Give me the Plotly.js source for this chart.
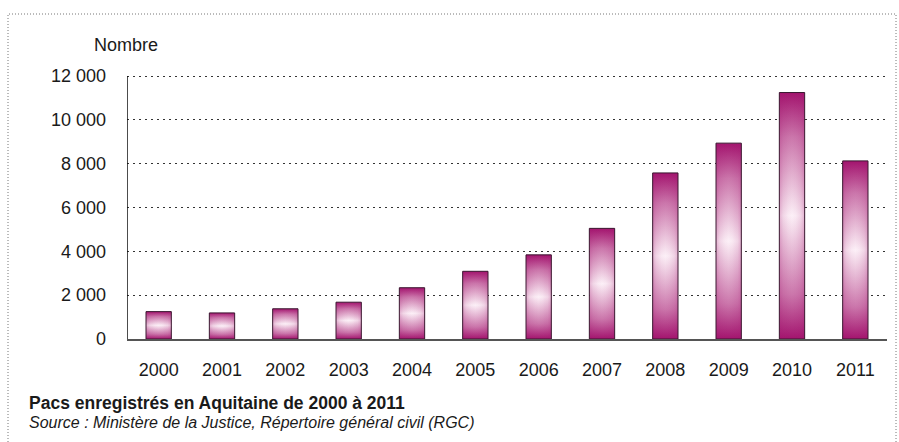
<!DOCTYPE html>
<html><head><meta charset="utf-8">
<script src="https://cdn.plot.ly/plotly-3.0.1.min.js"></script>
<style>body{margin:0;background:#fff}#chart{width:899px;height:442px}</style>
</head><body><div id="chart"></div>
<script>
const years = ['2000','2001','2002','2003','2004','2005','2006','2007','2008','2009','2010','2011'];
const values = [1250,1190,1380,1680,2340,3090,3840,5050,7580,8940,11250,8130];
const yTickVals = [0,2000,4000,6000,8000,10000,12000];
const yTickText = ['0','2 000','4 000','6 000','8 000','10 000','12 000'];
const yUnit = 'Nombre';
const titleText = 'Pacs enregistrés en Aquitaine de 2000 à 2011';
const sourceText = 'Source : Ministère de la Justice, Répertoire général civil (RGC)';

const W = 899, H = 442;
const M = {l:127, r:12, t:75, b:103};
const PW = W - M.l - M.r, PH = H - M.t - M.b;
const px = x => (x - M.l) / PW;
const py = y => (H - M.b - y) / PH;

const FONT = 'Liberation Sans, Arial, sans-serif';
const MAG = '#a3146e';
const half = 0.2;

const traces = [];
values.forEach((v, i) => {
  const xs = [i-half, i-half, i+half, i+half, i-half];
  const ys = [0, v, v, 0, 0];
  traces.push({
    type:'scatter', mode:'lines', x:xs, y:ys, fill:'toself',
    fillgradient:{type:'vertical', colorscale:[[0,MAG],[0.18,'#cb76ab'],[0.5,'#fcf0f7'],[0.82,'#cb76ab'],[1,MAG]]},
    line:{width:0}, hoverinfo:'skip', showlegend:false
  });
  traces.push({
    type:'scatter', mode:'lines', x:xs, y:ys, fill:'toself',
    fillgradient:{type:'horizontal', colorscale:[[0,'rgba(163,20,110,0.28)'],[0.15,'rgba(163,20,110,0.12)'],[0.35,'rgba(163,20,110,0.03)'],[0.5,'rgba(163,20,110,0)'],[0.65,'rgba(163,20,110,0.03)'],[0.85,'rgba(163,20,110,0.12)'],[1,'rgba(163,20,110,0.28)']]},
    line:{width:1, color:'#3a1830'}, hoverinfo:'skip', showlegend:false
  });
});

const layout = {
  width:W, height:H, margin:M,
  paper_bgcolor:'#fff', plot_bgcolor:'#fff',
  font:{family:FONT, size:18, color:'#1a1a1a'},
  showlegend:false,
  xaxis:{
    range:[-0.5, years.length-0.5], tickvals:years.map((_,i)=>i), ticktext:years,
    showgrid:false, zeroline:false, showline:true, linecolor:'#555', linewidth:1.5,
    ticks:'', ticklabelstandoff:14, fixedrange:true
  },
  yaxis:{
    range:[0,12050], tickvals:yTickVals, ticktext:yTickText,
    showgrid:true, gridcolor:'#333', griddash:'2px,4px', gridwidth:1,
    zeroline:false, showline:false, linecolor:'#111', linewidth:1.5,
    ticks:'', ticklabelstandoff:20, fixedrange:true
  },
  shapes:[
    {type:'rect', xref:'paper', yref:'paper',
     x0:px(8), x1:px(896), y0:py(460), y1:py(14),
     line:{color:'#777', width:1, dash:'1px,2px'}, fillcolor:'rgba(0,0,0,0)', layer:'below'},
    {type:'line', xref:'x', yref:'y', x0:-0.5, x1:-0.5, y0:0, y1:yTickVals[yTickVals.length-1],
     line:{color:'#111', width:1.5}}
  ],
  annotations:[
    {xref:'paper', yref:'paper', x:px(92), y:py(45), xanchor:'left', yanchor:'middle', text:yUnit, showarrow:false, font:{size:18, color:'#1a1a1a'}},
    {xref:'paper', yref:'paper', x:px(27), y:py(403), xanchor:'left', yanchor:'middle', text:'<b>'+titleText+'</b>', showarrow:false, font:{size:17.5, color:'#1a1a1a'}},
    {xref:'paper', yref:'paper', x:px(27), y:py(422), xanchor:'left', yanchor:'middle', text:'<i>'+sourceText+'</i>', showarrow:false, font:{size:16, color:'#1a1a1a'}}
  ]
};

Plotly.newPlot('chart', traces, layout, {displayModeBar:false, staticPlot:true});
</script>
</body></html>
